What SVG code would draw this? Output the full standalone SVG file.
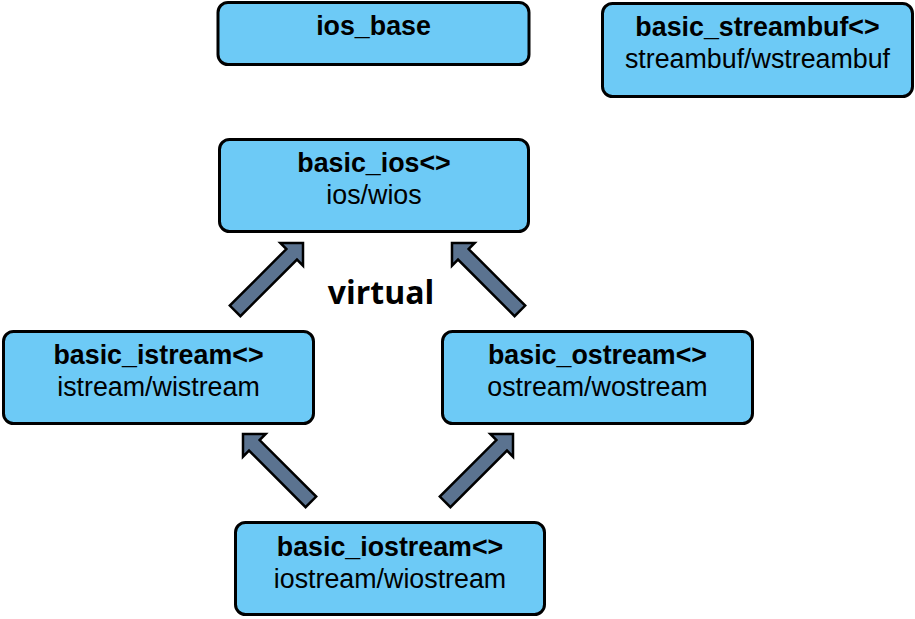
<svg xmlns="http://www.w3.org/2000/svg" width="915" height="619" viewBox="0 0 915 619">
<style>
.box{fill:#6dcaf6;stroke:#000;stroke-width:3}
.t{font-family:"Liberation Sans",Arial,sans-serif;font-size:26.8px;text-anchor:middle;fill:#000}
.b{font-weight:bold}
.arr{fill:#5b7390;stroke:#000;stroke-width:2.5;stroke-linejoin:miter}
.v{font-family:"Open Sans",sans-serif;font-weight:bold;font-size:32px;text-anchor:middle;fill:#000}
</style>
<defs>
<path id="ar" d="M0,0 L-16,-16 L-16,-7.5 L-96,-7.5 L-96,7.5 L-16,7.5 L-16,16 Z"/>
</defs>
<rect width="915" height="619" fill="#fff"/>
<g id="ios_base">
<rect class="box" x="218" y="2.5" width="311" height="62" rx="10"/>
<text class="t b" x="373.5" y="35">ios_base</text>
</g>
<g id="basic_streambuf">
<rect class="box" x="602.5" y="3.5" width="310" height="93" rx="10"/>
<text class="t b" x="757.5" y="36">basic_streambuf&lt;&gt;</text>
<text class="t" x="757.5" y="68">streambuf/wstreambuf</text>
</g>
<g id="basic_ios">
<rect class="box" x="219.5" y="139.5" width="309" height="92" rx="10"/>
<text class="t b" x="374" y="172">basic_ios&lt;&gt;</text>
<text class="t" x="374" y="204">ios/wios</text>
</g>
<g id="basic_istream">
<rect class="box" x="3.5" y="331.5" width="310" height="92" rx="10"/>
<text class="t b" x="158.5" y="364">basic_istream&lt;&gt;</text>
<text class="t" x="158.5" y="396">istream/wistream</text>
</g>
<g id="basic_ostream">
<rect class="box" x="442.5" y="331.5" width="310" height="92" rx="10"/>
<text class="t b" x="597.5" y="364">basic_ostream&lt;&gt;</text>
<text class="t" x="597.5" y="396">ostream/wostream</text>
</g>
<g id="basic_iostream">
<rect class="box" x="235.5" y="522.5" width="309" height="92" rx="10"/>
<text class="t b" x="390" y="556">basic_iostream&lt;&gt;</text>
<text class="t" x="390" y="588">iostream/wiostream</text>
</g>
<g id="connectors">
<use href="#ar" class="arr" transform="translate(303,243) rotate(-45)"/>
<use href="#ar" class="arr" transform="translate(452,243) rotate(-135)"/>
<use href="#ar" class="arr" transform="translate(243,434) rotate(-135)"/>
<use href="#ar" class="arr" transform="translate(513,434) rotate(-45)"/>
<text class="v" x="381" y="304">virtual</text>
</g>
</svg>
